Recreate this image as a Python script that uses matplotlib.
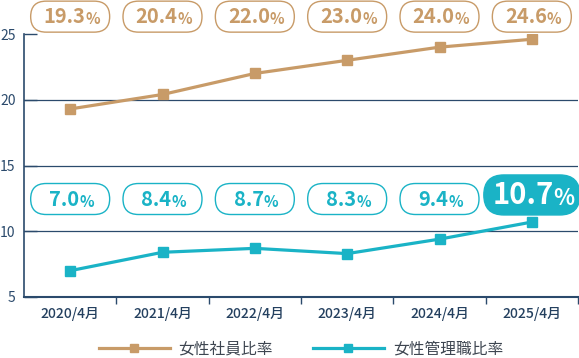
import matplotlib
matplotlib.use('Agg')
import matplotlib.pyplot as plt
from matplotlib.patches import FancyBboxPatch
from matplotlib.text import Annotation
from matplotlib.transforms import blended_transform_factory, ScaledTranslation

plt.rcParams['font.family'] = ['Noto Sans CJK JP', 'DejaVu Sans']

# data
years = ['2020/4月', '2021/4月', '2022/4月', '2023/4月', '2024/4月', '2025/4月']
staff_ratio = [19.3, 20.4, 22.0, 23.0, 24.0, 24.6]
manager_ratio = [7.0, 8.4, 8.7, 8.3, 9.4, 10.7]
series_names = ['女性社員比率', '女性管理職比率']

tan = '#c89b68'
teal = '#1ab3c6'
navy = '#2b4a6c'

fig = plt.figure(figsize=(5.79, 3.58), dpi=100)
ax = fig.add_axes([24/579, 1 - 297/358, 554/579, 263/358])

x = list(range(len(years)))
ax.plot(x, staff_ratio, color=tan, lw=2.3, marker='s', ms=7, label=series_names[0])
ax.plot(x, manager_ratio, color=teal, lw=2.3, marker='s', ms=7, label=series_names[1])

ax.set_xlim(-0.5, len(years) - 0.5)
ax.set_ylim(5, 25)
ax.set_yticks([5, 10, 15, 20, 25])
for y in [10, 15, 20]:
    ax.axhline(y, color=navy, lw=0.9, zorder=0)

# x ticks at category boundaries, labels at centers
ax.set_xticks([i + 0.5 for i in range(len(years))])
ax.set_xticklabels([])
ax.set_xticks(x, minor=True)
ax.set_xticklabels(years, minor=True)
ax.tick_params(axis='x', which='major', length=5, width=1, color=navy, direction='out')
ax.tick_params(axis='x', which='minor', length=0, pad=7, labelsize=10, labelcolor='#24405f')
for lbl in ax.get_xticklabels(minor=True):
    lbl.set_fontweight('medium')
ax.tick_params(axis='y', length=9.5, width=1, color=navy, direction='in',
               pad=6, labelsize=10, labelcolor=navy)

for s in ['top', 'right']:
    ax.spines[s].set_visible(False)
ax.spines['left'].set_color(navy)
ax.spines['bottom'].set_color(navy)
ax.spines['left'].set_linewidth(1.2)
ax.spines['bottom'].set_linewidth(1.5)

# value labels in pill boxes
trans = blended_transform_factory(ax.transData, ax.transAxes)


def pill_label(xi, yf, value, color, w, h, size, filled=False):
    box_tr = fig.dpi_scale_trans + ScaledTranslation(xi, yf, trans)
    box = FancyBboxPatch((-w / 2, -h / 2), w, h,
                         boxstyle=f'round,pad=0,rounding_size={h / 2}',
                         transform=box_tr, fc=color if filled else 'white',
                         ec=color, lw=1, zorder=2)
    fig.add_artist(box)
    txt_color = 'white' if filled else color
    num_tr = box_tr + ScaledTranslation(-size * 0.3 / 72, 0, fig.dpi_scale_trans)
    num = fig.text(0, 0, f'{value:.1f}', transform=num_tr, ha='center', va='center',
                   fontsize=size, fontweight='bold', color=txt_color, zorder=3)
    pct = Annotation('%', xy=(1, 0), xycoords=num, xytext=(0, 0),
                     textcoords='offset points', ha='left', va='bottom',
                     fontsize=size * 0.75, fontweight='bold', color=txt_color,
                     zorder=3)
    fig.add_artist(pct)


for i, v in enumerate(staff_ratio):
    pill_label(i, 1.066, v, tan, 0.79, 0.31, 14.5)
for i, v in enumerate(manager_ratio):
    if i == len(manager_ratio) - 1:
        pill_label(i, 0.388, v, teal, 0.96, 0.40, 21, filled=True)
    else:
        pill_label(i, 0.3726, v, teal, 0.79, 0.31, 14.5)

ax.legend(loc='center', bbox_to_anchor=(0.5, (297 - 348.5) / 263), ncol=2,
          frameon=False, fontsize=11.3, handlelength=4.5, handletextpad=0.57,
          columnspacing=2.55, markerscale=0.85, labelcolor='#3d4550')

fig.savefig('out.png', dpi=100)
